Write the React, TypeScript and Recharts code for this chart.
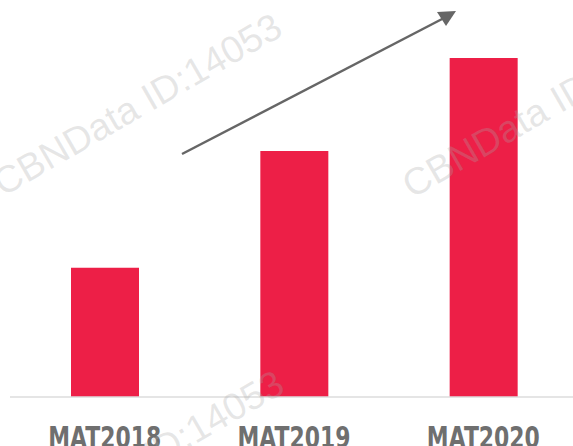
import React from 'react';
import { BarChart, Bar, XAxis, YAxis } from 'recharts';

const periods = ['MAT2018', 'MAT2019', 'MAT2020'];
const growthIndex = [38.1, 72.6, 100];
const watermarkText = 'CBNData ID:14053';

const data = periods.map((p, i) => ({ period: p, value: growthIndex[i] }));

const PeriodTick = (props: any) => {
  const { x, y, payload } = props;
  return (
    <text
      x={x}
      y={y + 45}
      textAnchor="middle"
      fill="#6f6f6f"
      fontSize={31}
      fontWeight="bold"
      textLength={113}
      lengthAdjust="spacingAndGlyphs"
      fontFamily="'DejaVu Sans', sans-serif"
    >
      {payload.value}
    </text>
  );
};

// faint watermark laid over the chart
const Watermarks = () => {
  const spots = [
    [3, 197],
    [412, 199],
    [5, 554],
  ];
  return (
    <svg width={573} height={446} style={{ position: 'absolute', left: 0, top: 0, pointerEvents: 'none' }}>
      {spots.map(([x, y], i) => (
        <text
          key={i}
          x={x}
          y={y}
          transform={`rotate(-30 ${x} ${y})`}
          fill="#a8a8a8"
          fillOpacity={0.28}
          fontSize={38}
          fontFamily="'Liberation Sans', Arial, sans-serif"
        >
          {watermarkText}
        </text>
      ))}
    </svg>
  );
};

const TrendArrow = () => (
  <svg width={573} height={446} style={{ position: 'absolute', left: 0, top: 0, pointerEvents: 'none' }}>
    <line x1={182} y1={154} x2={444} y2={18} stroke="#666666" strokeWidth={2.5} />
    <polygon points="456,11 437,12 446,26" fill="#666666" />
  </svg>
);

const App: React.FC = () => {
  return (
    <div style={{ position: 'absolute', left: 0, top: 0, width: 573, height: 446, overflow: 'hidden', background: '#fff' }}>
      <div style={{ position: 'absolute', left: 0, top: 0 }}>
        <BarChart width={578} height={446} data={data} margin={{ top: 58, right: 0, left: 10, bottom: 0 }}>
          <XAxis
            dataKey="period"
            axisLine={{ stroke: '#dddddd', strokeWidth: 1.5 }}
            tickLine={false}
            tickMargin={0}
            height={49}
            tick={<PeriodTick />}
            interval={0}
          />
          <YAxis hide domain={[0, 100]} />
          <Bar dataKey="value" fill="#ed1f47" barSize={68} isAnimationActive={false} />
        </BarChart>
      </div>
      <Watermarks />
      <TrendArrow />
    </div>
  );
};

export default App;
